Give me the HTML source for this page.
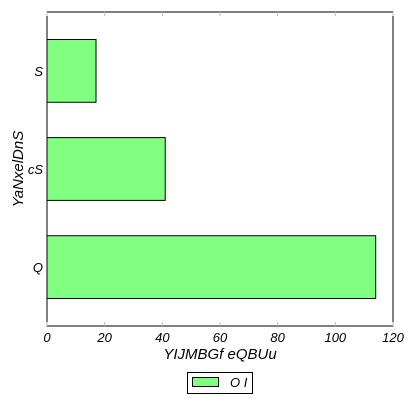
<!DOCTYPE html>
<html><head><meta charset="utf-8"><style>
body{margin:0;background:#fff}
svg text{font-family:"Liberation Sans",sans-serif;font-style:italic;fill:#000}
</style></head><body>
<svg id="chart" width="413" height="413" xmlns="http://www.w3.org/2000/svg">
<rect x="0" y="0" width="413" height="413" fill="#fff"/>
<g id="bars"></g>
<rect x="47" y="12" width="346" height="314" fill="none" stroke="#000" stroke-width="1"/>
<g id="xticks"></g>
<g id="yticks"></g>
<text x="220" y="359" font-size="15" text-anchor="middle">YIJMBGf eQBUu</text>
<text x="0" y="0" font-size="15" text-anchor="middle" transform="translate(23,169) rotate(-90)">YaNxelDnS</text>
<g>
<rect x="187.5" y="372.5" width="65" height="21" fill="#fff" stroke="#000"/>
<rect x="192.5" y="377.5" width="26" height="9" fill="#80ff80" stroke="#000"/>
<text x="230" y="387" font-size="13">O I</text>
</g>
</svg>
<script>
const categories = ["Q", "cS", "S"];
const values = [114, 41, 17];
const xTicks = [0, 20, 40, 60, 80, 100, 120];
const NS = "http://www.w3.org/2000/svg";
const L = 47, R = 393, T = 12, B = 326;
const xs = v => L + (v - 0) / 120 * (R - L);
const ys = i => B - (i + 0.6) / 3.2 * (B - T);
const bw = 0.64 / 3.2 * (B - T);
const gb = document.getElementById('bars');
categories.forEach((c, i) => {
  const r = document.createElementNS(NS, 'rect');
  r.setAttribute('x', xs(0));
  r.setAttribute('y', ys(i) - bw / 2);
  r.setAttribute('width', xs(values[i]) - xs(0));
  r.setAttribute('height', bw);
  r.setAttribute('fill', '#80ff80');
  r.setAttribute('stroke', '#000');
  
  
  gb.appendChild(r);
});
const gx = document.getElementById('xticks');
xTicks.forEach(v => {
  const x = xs(v);
  [[B, B - 4], [T, T + 4]].forEach(([a, b]) => {
    const l = document.createElementNS(NS, 'line');
    l.setAttribute('x1', x); l.setAttribute('x2', x);
    l.setAttribute('y1', a); l.setAttribute('y2', b);
    l.setAttribute('stroke', '#bbb');
    
    
    gx.appendChild(l);
  });
  const t = document.createElementNS(NS, 'text');
  t.setAttribute('x', x); t.setAttribute('y', B + 16);
  t.setAttribute('font-size', '13'); t.setAttribute('text-anchor', 'middle');
  t.textContent = v;
  
  
  gx.appendChild(t);
});
const gy = document.getElementById('yticks');
categories.forEach((c, i) => {
  const t = document.createElementNS(NS, 'text');
  t.setAttribute('x', L - 4); t.setAttribute('y', ys(i) + 5);
  t.setAttribute('font-size', '13'); t.setAttribute('text-anchor', 'end');
  t.textContent = c;
  
  
  gy.appendChild(t);
});
</script>
</body></html>
